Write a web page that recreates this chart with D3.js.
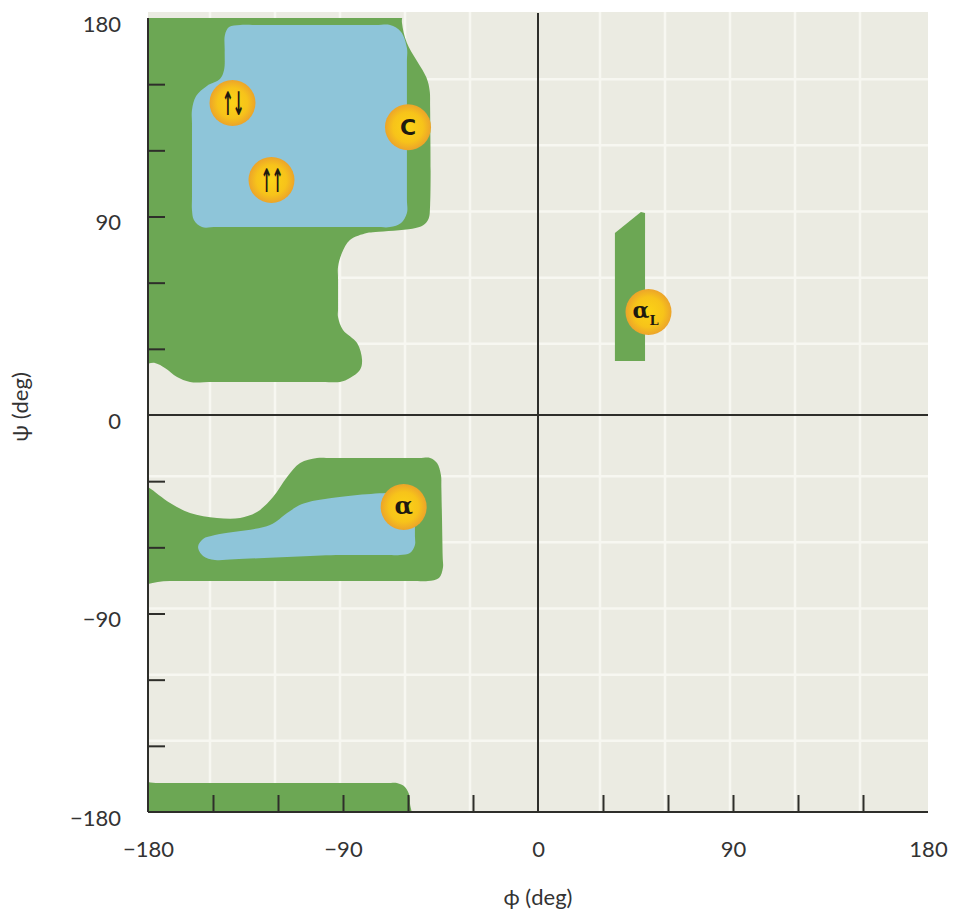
<!DOCTYPE html>
<html>
<head>
<meta charset="utf-8">
<script src="https://cdn.jsdelivr.net/npm/d3@7"></script>
<style>
  html, body { margin: 0; padding: 0; background: #fff; }
  svg { display: block; }
</style>
</head>
<body>
<div id="chart"></div>
<script>
// ===== RAMACHANDRAN PLOT (phi / psi allowed regions) =====

// axis ticks and labels (degrees)
const phiTicks = [-150, -120, -90, -60, -30, 30, 60, 90, 120, 150];
const psiTicks = [-150, -120, -90, -60, -30, 30, 60, 90, 120, 150];
const phiLabels = [-180, -90, 0, 90, 180];
const psiLabels = [-180, -90, 0, 90, 180];
const gridLines = [-150, -120, -90, -60, -30, 30, 60, 90, 120, 150];

// region outlines, [phi, psi] pairs
// (points past +-180 sit outside the frame and get clipped)
const betaOuter = [
  [-186, 186], [-63, 186], [-62.8, 178], [-60.5, 168.7], [-51.5, 153], [-50, 147],
  [-49.8, 140], [-49.8, 95], [-50.5, 89], [-53, 86], [-58, 84.5], [-75, 83],
  [-79, 82.5], [-86.8, 79.3], [-90.5, 73.4], [-92.3, 67.1], [-92.3, 62], [-92.3, 48],
  [-92.3, 44.4], [-90, 38.5], [-83.5, 32.6], [-81.2, 24.9], [-82.2, 20.4], [-86.8, 16.8],
  [-91.4, 15.0], [-100, 15], [-150, 15], [-160.6, 15.0], [-166.6, 17.2], [-172.2, 21.3],
  [-176.8, 23.6], [-186, 23.6]
];
const betaCore = [
  [-137.5, 176.8], [-130, 176.8], [-75, 176.8], [-68.3, 176.8], [-63.2, 173.7],
  [-60.5, 166.4], [-60.5, 160], [-60.5, 98], [-60.5, 91.6], [-63.2, 87.1], [-68.3, 85.2],
  [-75, 85.2], [-148, 85.2], [-155.1, 85.2], [-158.8, 88.4], [-159.7, 92.9],
  [-159.7, 99], [-159.7, 132], [-159.7, 138.3], [-157.8, 144.6], [-152.8, 149.2],
  [-146.8, 152.3], [-144.9, 156.4], [-144.6, 165], [-144.5, 172.3], [-142.6, 175.9]
];
const alphaOuter = [
  [-186, -29.5], [-180, -32.6], [-169.8, -39.9], [-160.6, -44.4], [-148.2, -46.7],
  [-137.5, -46.7], [-129.7, -44.0], [-122.3, -37.2], [-115.8, -28.1], [-109.8, -21.8],
  [-102, -19.5], [-95, -19.5], [-55, -19.5], [-49.8, -19.5], [-46.6, -21.8],
  [-44.8, -27.2], [-44.6, -33], [-44, -64], [-43.9, -69.4], [-45.7, -73.9],
  [-50.8, -75.3], [-57, -75.3], [-170, -75.3], [-186, -75.3]
];
const alphaCore = [
  [-156.9, -59.8], [-154.6, -56.2], [-149.1, -54.4], [-123.7, -49.9], [-115.8, -44.4],
  [-108.9, -40.4], [-98.3, -38.1], [-68.3, -35.4], [-59.1, -36.3], [-56.8, -40.8],
  [-56.8, -46], [-56.8, -55], [-56.8, -58.9], [-59.1, -62.6], [-63.7, -63.5],
  [-70, -63.5], [-91.4, -63.5], [-140, -65.4], [-149.1, -65.7], [-154.6, -63.9]
];
const bottomStrip = [
  [-186, -166.9], [-175, -166.9], [-70, -166.9], [-65.1, -166.9], [-61.4, -168.7],
  [-59.3, -172.7], [-59.1, -176], [-59.1, -186], [-186, -186]
];
const leftHanded = [
  [35.5, 82.5], [47.5, 92.0], [49.4, 91.6], [49.4, 24.5], [35.5, 24.5]
];

// conformation markers
const confNames = ["antiparallel", "parallel", "collagen", "alpha", "alphaL"];
const confPhi = [-141, -123, -60, -62, 51];
const confPsi = [141.5, 106.5, 130.5, -41.7, 46.7];

const W = 957, H = 915;
const margin = { left: 148, right: 29, top: 18, bottom: 103 };

const x = d3.scaleLinear().domain([-180, 180]).range([margin.left, W - margin.right]);
const y = d3.scaleLinear().domain([-180, 180]).range([H - margin.bottom, margin.top]);

const svg = d3.select('#chart').append('svg')
  .attr('width', W)
  .attr('height', H);

const defs = svg.append('defs');

defs.append('clipPath').attr('id', 'plot-clip')
  .append('rect')
  .attr('x', x(-180)).attr('y', y(180))
  .attr('width', x(180) - x(-180)).attr('height', y(-180) - y(180));

const grad = defs.append('radialGradient').attr('id', 'dot-grad');
grad.append('stop').attr('offset', '0%').attr('stop-color', '#fbd316');
grad.append('stop').attr('offset', '65%').attr('stop-color', '#f7c31a');
grad.append('stop').attr('offset', '100%').attr('stop-color', '#eca42a');

// paper background + faint grid
svg.append('rect')
  .attr('x', x(-180)).attr('y', y(180) - 6)
  .attr('width', x(180) - x(-180)).attr('height', y(-180) - y(180) + 6)
  .attr('fill', '#ebebe2');

const grid = svg.append('g').attr('stroke', '#f7f7f1').attr('stroke-width', 2.5);
grid.selectAll('.gx').data(gridLines).join('line')
  .attr('x1', d => x(d) - 3).attr('x2', d => x(d) - 3)
  .attr('y1', y(180) - 6).attr('y2', y(-180));
grid.selectAll('.gy').data(gridLines).join('line')
  .attr('x1', x(-180)).attr('x2', x(180))
  .attr('y1', d => y(d) - 5).attr('y2', d => y(d) - 5);

// allowed regions
const smooth = d3.line()
  .x(d => x(d[0])).y(d => y(d[1]))
  .curve(d3.curveCatmullRomClosed.alpha(0.5));
const straight = d3.line()
  .x(d => x(d[0])).y(d => y(d[1]))
  .curve(d3.curveLinearClosed);

const regions = svg.append('g').attr('clip-path', 'url(#plot-clip)');
const green = '#6ca754';
const blue = '#8ec5d9';

regions.append('path').attr('d', smooth(betaOuter)).attr('fill', green);
regions.append('path').attr('d', smooth(alphaOuter)).attr('fill', green);
regions.append('path').attr('d', smooth(bottomStrip)).attr('fill', green);
regions.append('path').attr('d', straight(leftHanded)).attr('fill', green);
regions.append('path').attr('d', smooth(betaCore)).attr('fill', blue);
regions.append('path').attr('d', smooth(alphaCore)).attr('fill', blue);

// axes lines
const ink = '#2e2e2a';
const axes = svg.append('g').attr('stroke', ink).attr('stroke-width', 2);
axes.append('line')
  .attr('x1', x(-180)).attr('x2', x(-180))
  .attr('y1', y(180)).attr('y2', y(-180));
axes.append('line')
  .attr('x1', x(-180)).attr('x2', x(180))
  .attr('y1', y(-180)).attr('y2', y(-180));
axes.append('line')
  .attr('x1', x(0)).attr('x2', x(0))
  .attr('y1', y(180) - 5).attr('y2', y(-180));
axes.append('line')
  .attr('x1', x(-180)).attr('x2', x(180))
  .attr('y1', y(0)).attr('y2', y(0));

// inside ticks
const tickLen = 17;
const xTickAxis = svg.append('g')
  .attr('transform', `translate(0,${y(-180)})`)
  .call(d3.axisBottom(x).tickValues(phiTicks).tickSize(-tickLen).tickFormat(''));
const yTickAxis = svg.append('g')
  .attr('transform', `translate(${x(-180)},0)`)
  .call(d3.axisLeft(y).tickValues(psiTicks).tickSize(-tickLen).tickFormat(''));
[xTickAxis, yTickAxis].forEach(g => {
  g.select('.domain').remove();
  g.selectAll('.tick line').attr('stroke', ink).attr('stroke-width', 2);
});

// tick labels
const fmt = d => d < 0 ? '\u2212' + Math.abs(d) : String(d);
const labelFont = 'Lato, "Open Sans", sans-serif';

const xLab = svg.append('g')
  .attr('transform', `translate(0,${y(-180)})`)
  .call(d3.axisBottom(x).tickValues(phiLabels).tickSize(0).tickPadding(29).tickFormat(fmt));
const yLab = svg.append('g')
  .attr('transform', `translate(${x(-180) - 27},0)`)
  .call(d3.axisLeft(y).tickValues(psiLabels).tickSize(0).tickPadding(0).tickFormat(fmt));
[xLab, yLab].forEach(g => {
  g.select('.domain').remove();
  g.selectAll('.tick text')
    .attr('fill', '#333')
    .style('font-family', labelFont)
    .style('font-size', '22px');
});
yLab.selectAll('.tick text').attr('dy', '0.6em');

// axis titles
svg.append('text')
  .attr('x', x(0)).attr('y', 905)
  .attr('text-anchor', 'middle')
  .attr('fill', '#333')
  .style('font-family', labelFont)
  .style('font-size', '22px')
  .text('\u03D5 (deg)');

svg.append('text')
  .attr('transform', `translate(28,${y(0) - 8}) rotate(-90)`)
  .attr('text-anchor', 'middle')
  .attr('fill', '#333')
  .style('font-family', labelFont)
  .style('font-size', '22px')
  .text('\u03C8 (deg)');

// conformation markers
const conf = confNames.map((n, i) => ({ name: n, phi: confPhi[i], psi: confPsi[i] }));
const dots = svg.append('g').selectAll('g').data(conf).join('g')
  .attr('transform', d => `translate(${x(d.phi)},${y(d.psi)})`);

dots.append('circle').attr('r', 23).attr('fill', 'url(#dot-grad)');

const dark = '#1e1a10';
dots.each(function (d) {
  const g = d3.select(this);
  if (d.name === 'antiparallel' || d.name === 'parallel') {
    g.append('text')
      .attr('text-anchor', 'middle')
      .attr('dy', '0.36em')
      .attr('transform', 'scale(0.55,1.25)')
      .attr('fill', dark)
      .style('font-family', '"DejaVu Sans", sans-serif')
      .style('font-weight', 'bold')
      .style('font-size', '26px')
      .style('letter-spacing', '-2px')
      .text(d.name === 'antiparallel' ? '\u2191\u2193' : '\u2191\u2191');
  } else if (d.name === 'collagen') {
    g.append('text')
      .attr('text-anchor', 'middle')
      .attr('dy', '0.36em')
      .attr('fill', dark)
      .style('font-family', '"DejaVu Sans", sans-serif')
      .style('font-weight', 'bold')
      .style('font-size', '22px')
      .text('C');
  } else if (d.name === 'alpha') {
    g.append('text')
      .attr('text-anchor', 'middle')
      .attr('dy', '0.3em')
      .attr('fill', dark)
      .style('font-family', '"DejaVu Serif", serif')
      .style('font-weight', 'bold')
      .style('font-size', '24px')
      .text('\u03B1');
  } else {
    const t = g.append('text')
      .attr('x', -3)
      .attr('dy', '0.25em')
      .attr('text-anchor', 'middle')
      .attr('fill', dark)
      .style('font-family', '"DejaVu Serif", serif')
      .style('font-weight', 'bold')
      .style('font-size', '22px');
    t.append('tspan').text('\u03B1');
    t.append('tspan').attr('dy', 7).attr('dx', 0).style('font-size', '13px').text('L');
  }
});
</script>
</body>
</html>
